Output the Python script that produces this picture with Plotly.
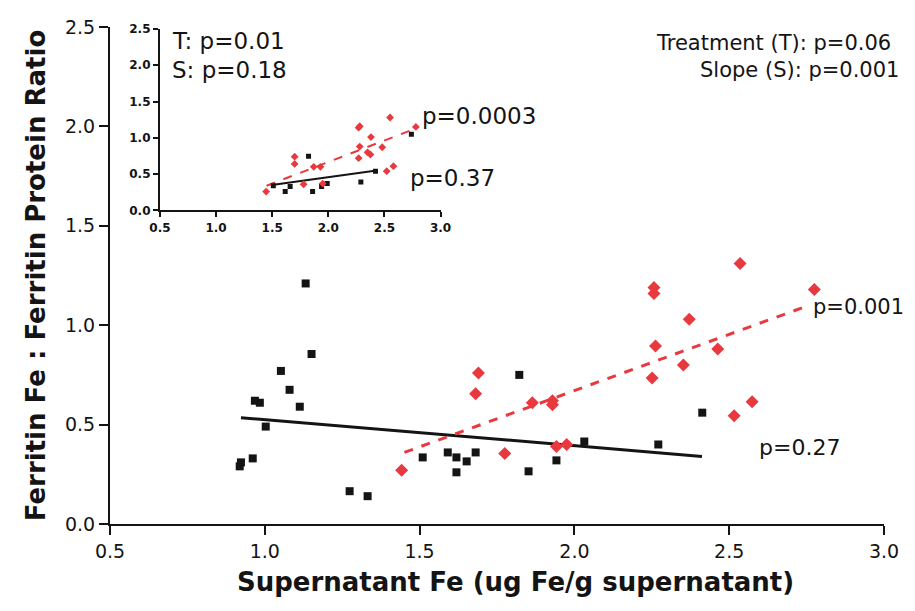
import plotly.graph_objects as go

# ---- main panel data ----
ctrl_x = [0.919, 0.923, 0.961, 0.968, 0.984, 1.003, 1.052, 1.08, 1.113, 1.132, 1.151, 1.274, 1.332,
          1.51, 1.591, 1.619, 1.619, 1.652, 1.681, 1.822, 1.852, 1.942, 2.032, 2.271, 2.413]
ctrl_y = [0.29, 0.31, 0.33, 0.62, 0.61, 0.49, 0.77, 0.675, 0.59, 1.21, 0.855, 0.165, 0.14,
          0.335, 0.36, 0.335, 0.26, 0.315, 0.36, 0.75, 0.265, 0.32, 0.415, 0.40, 0.56]
trt_x = [1.442, 1.69, 1.681, 1.775, 1.864, 1.929, 1.929, 1.942, 1.975, 2.257, 2.257, 2.535, 2.775,
         2.371, 2.262, 2.463, 2.352, 2.251, 2.574, 2.516]
trt_y = [0.27, 0.76, 0.655, 0.355, 0.61, 0.62, 0.60, 0.39, 0.40, 1.19, 1.16, 1.31, 1.18,
         1.03, 0.895, 0.88, 0.80, 0.735, 0.615, 0.545]
ctrl_fit_x = [0.923, 2.412]
ctrl_fit_y = [0.535, 0.34]
trt_fit_x = [1.451, 2.758]
trt_fit_y = [0.36, 1.10]

# ---- inset data ----
in_ctrl_x = [1.824, 1.51, 1.616, 1.66, 1.86, 1.94, 1.99, 2.29, 2.42, 2.74]
in_ctrl_y = [0.747, 0.34, 0.26, 0.33, 0.26, 0.33, 0.37, 0.39, 0.54, 1.05]
in_trt_x = [1.446, 1.70, 1.70, 1.78, 1.87, 1.93, 1.95, 2.27, 2.28, 2.28, 2.35, 2.38, 2.375,
            2.48, 2.55, 2.78, 2.52, 2.58, 2.27]
in_trt_y = [0.26, 0.74, 0.64, 0.36, 0.60, 0.60, 0.37, 1.14, 1.16, 0.88, 0.80, 1.01, 0.77,
            0.87, 1.28, 1.15, 0.54, 0.61, 0.72]
in_ctrl_fit_x = [1.497, 2.43]
in_ctrl_fit_y = [0.35, 0.55]
in_trt_fit_x = [1.45, 2.73]
in_trt_fit_y = [0.34, 1.10]

tick_vals = [0.0, 0.5, 1.0, 1.5, 2.0, 2.5]
tick_text = ["0.0", "0.5", "1.0", "1.5", "2.0", "2.5"]
xtick_vals = [0.5, 1.0, 1.5, 2.0, 2.5, 3.0]
xtick_text = ["0.5", "1.0", "1.5", "2.0", "2.5", "3.0"]

BLACK = "#141414"
RED = "#e8393f"
SANS = "DejaVu Sans, Verdana, sans-serif"

fig = go.Figure()

# main
fig.add_trace(go.Scatter(x=ctrl_fit_x, y=ctrl_fit_y, mode="lines",
                         line=dict(color=BLACK, width=3), xaxis="x", yaxis="y"))
fig.add_trace(go.Scatter(x=trt_fit_x, y=trt_fit_y, mode="lines",
                         line=dict(color=RED, width=3, dash="dash"), xaxis="x", yaxis="y"))
fig.add_trace(go.Scatter(x=ctrl_x, y=ctrl_y, mode="markers",
                         marker=dict(symbol="square", size=8, color=BLACK), xaxis="x", yaxis="y"))
fig.add_trace(go.Scatter(x=trt_x, y=trt_y, mode="markers",
                         marker=dict(symbol="diamond", size=10, color=RED), xaxis="x", yaxis="y"))

# inset
fig.add_trace(go.Scatter(x=in_ctrl_fit_x, y=in_ctrl_fit_y, mode="lines",
                         line=dict(color=BLACK, width=2), xaxis="x2", yaxis="y2"))
fig.add_trace(go.Scatter(x=in_trt_fit_x, y=in_trt_fit_y, mode="lines",
                         line=dict(color=RED, width=2, dash="dash"), xaxis="x2", yaxis="y2"))
fig.add_trace(go.Scatter(x=in_ctrl_x, y=in_ctrl_y, mode="markers",
                         marker=dict(symbol="square", size=5, color=BLACK), xaxis="x2", yaxis="y2"))
fig.add_trace(go.Scatter(x=in_trt_x, y=in_trt_y, mode="markers",
                         marker=dict(symbol="diamond", size=6, color=RED), xaxis="x2", yaxis="y2"))

axis_common = dict(showgrid=False, zeroline=False, showline=True, linecolor=BLACK,
                   ticks="outside", tickcolor=BLACK)


def note(text, x, y, xref, yref, size, anchor="left", bold=False):
    return dict(text=text, x=x, y=y, xref=xref, yref=yref, xanchor=anchor, yanchor="middle",
                showarrow=False,
                font=dict(family=SANS, size=size, color=BLACK, weight="bold" if bold else "normal"))


annotations = [
    note("p=0.001", 2.765, 1.09, "x", "y", 21),
    note("p=0.27", 2.59, 0.385, "x", "y", 22),
    note("Treatment (T): p=0.06", 1.012, 2.42, "paper", "y", 21, "right"),
    note("Slope (S): p=0.001", 1.022, 2.285, "paper", "y", 21, "right"),
    note("T: p=0.01", 0.589, 2.34, "x2", "y2", 23),
    note("S: p=0.18", 0.589, 1.94, "x2", "y2", 23),
    note("p=0.0003", 2.82, 1.30, "x2", "y2", 23),
    note("p=0.37", 2.71, 0.45, "x2", "y2", 23),
    note("Supernatant Fe (ug Fe/g supernatant)", 0.524, -0.116, "paper", "paper", 26, "center", True),
]

fig.update_layout(
    width=899, height=595,
    margin=dict(l=102, r=17, t=8, b=79),
    paper_bgcolor="white", plot_bgcolor="white",
    showlegend=False,
    xaxis=dict(**axis_common, domain=[0, 1], range=[0.5, 3.0], tickvals=xtick_vals, ticktext=xtick_text,
               linewidth=2, ticklen=9, tickwidth=2,
               tickfont=dict(family=SANS, size=19, color=BLACK)),
    yaxis=dict(**axis_common, domain=[0, 1], range=[0, 2.5], tickvals=tick_vals, ticktext=tick_text,
               linewidth=2, ticklen=9, tickwidth=2,
               tickfont=dict(family=SANS, size=19, color=BLACK),
               title=dict(text="<b>Ferritin Fe : Ferritin Protein Ratio</b>", standoff=12,
                          font=dict(family=SANS, size=26, color=BLACK))),
    xaxis2=dict(**axis_common, domain=[0.0645, 0.4271], range=[0.5, 3.0], anchor="y2",
                tickvals=xtick_vals, ticktext=xtick_text, linewidth=2, ticklen=5, tickwidth=2,
                tickfont=dict(family=SANS, size=12, color=BLACK, weight="bold")),
    yaxis2=dict(**axis_common, domain=[0.631, 0.996], range=[0, 2.5], anchor="x2",
                tickvals=tick_vals, ticktext=tick_text, linewidth=2, ticklen=5, tickwidth=2,
                tickfont=dict(family=SANS, size=12, color=BLACK, weight="bold")),
    annotations=annotations,
)

fig.write_html("out.html")
